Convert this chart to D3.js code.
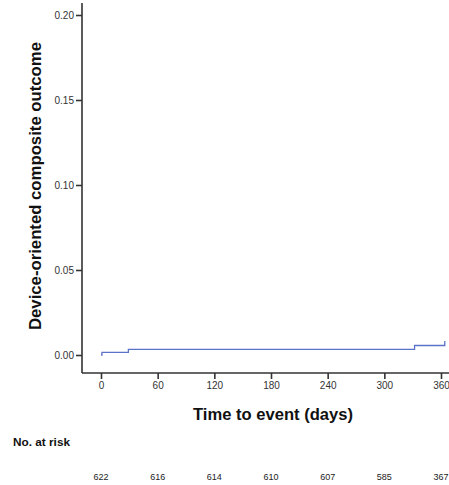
<!DOCTYPE html>
<html>
<head>
<meta charset="utf-8">
<script src="https://cdn.jsdelivr.net/npm/d3@7"></script>
<style>
  html, body { margin: 0; padding: 0; background: #fff; }
  svg { display: block; font-family: "Liberation Sans", Arial, sans-serif; }
</style>
</head>
<body>
<svg id="chart" width="449" height="485"></svg>
<script>
// Step times (days) and cumulative incidence of the device-oriented composite outcome
const eventDays = [0, 1, 29, 332, 364];
const cumIncidence = [0, 0.0016, 0.0033, 0.0056, 0.0083];

// Axis ticks
const xTicks = [0, 60, 120, 180, 240, 300, 360];
const yTicks = [0, 0.05, 0.10, 0.15, 0.20];

// Number at risk at each x tick
const riskDays = [0, 60, 120, 180, 240, 300, 360];
const atRisk = [622, 616, 614, 610, 607, 585, 367];

const svg = d3.select("#chart");

const x = d3.scaleLinear().domain([0, 360]).range([101, 441]);
const y = d3.scaleLinear().domain([0, 0.20]).range([355, 15]);

const axisColor = "#333";
const axisLeftX = 82;
const axisBottomY = 373;

// Axis lines
svg.append("line")
  .attr("x1", axisLeftX).attr("x2", axisLeftX)
  .attr("y1", 3).attr("y2", axisBottomY)
  .attr("stroke", axisColor).attr("stroke-width", 1.6);
svg.append("line")
  .attr("x1", axisLeftX).attr("x2", 449)
  .attr("y1", axisBottomY).attr("y2", axisBottomY)
  .attr("stroke", axisColor).attr("stroke-width", 1.6);

// Y axis ticks and labels
const yAxis = d3.axisLeft(y).tickValues(yTicks).tickFormat(d3.format(".2f"))
  .tickSize(6).tickPadding(2);
const gy = svg.append("g").attr("transform", `translate(${axisLeftX},0)`).call(yAxis);
gy.select(".domain").remove();
gy.selectAll(".tick line").attr("stroke", axisColor).attr("stroke-width", 1.6);
gy.selectAll(".tick text").attr("fill", "#333").style("font-size", "10px")
  .style("font-family", "'Liberation Sans', Arial, sans-serif");

// X axis ticks and labels
const xAxis = d3.axisBottom(x).tickValues(xTicks).tickFormat(d3.format("d"))
  .tickSize(6).tickPadding(3);
const gx = svg.append("g").attr("transform", `translate(0,${axisBottomY})`).call(xAxis);
gx.select(".domain").remove();
gx.selectAll(".tick line").attr("stroke", axisColor).attr("stroke-width", 1.6);
gx.selectAll(".tick text").attr("fill", "#333").style("font-size", "10px")
  .style("font-family", "'Liberation Sans', Arial, sans-serif");

// Cumulative incidence step curve
const line = d3.line()
  .x((d, i) => x(eventDays[i]))
  .y(d => y(d))
  .curve(d3.curveStepAfter);
svg.append("path")
  .attr("d", line(cumIncidence))
  .attr("fill", "none")
  .attr("stroke", "#5a72c8")
  .attr("stroke-width", 1.3);

// Axis titles
svg.append("text")
  .attr("x", 193).attr("y", 419.5)
  .attr("textLength", 160).attr("lengthAdjust", "spacingAndGlyphs")
  .style("font-size", "16.5px").style("font-weight", "bold")
  .attr("fill", "#111")
  .text("Time to event (days)");

svg.append("text")
  .attr("transform", "translate(41,330) rotate(-90)")
  .attr("textLength", 288).attr("lengthAdjust", "spacingAndGlyphs")
  .style("font-size", "16px").style("font-weight", "bold")
  .attr("fill", "#111")
  .text("Device-oriented composite outcome");

// Number at risk table
svg.append("text")
  .attr("x", 13).attr("y", 445.5)
  .attr("textLength", 57).attr("lengthAdjust", "spacingAndGlyphs")
  .style("font-size", "11px").style("font-weight", "bold")
  .attr("fill", "#111")
  .text("No. at risk");

svg.append("g").selectAll("text")
  .data(atRisk)
  .join("text")
  .attr("x", (d, i) => x(riskDays[i]))
  .attr("y", 480)
  .attr("text-anchor", "middle")
  .style("font-size", "9px")
  .attr("fill", "#222")
  .text(d => d);
</script>
</body>
</html>
